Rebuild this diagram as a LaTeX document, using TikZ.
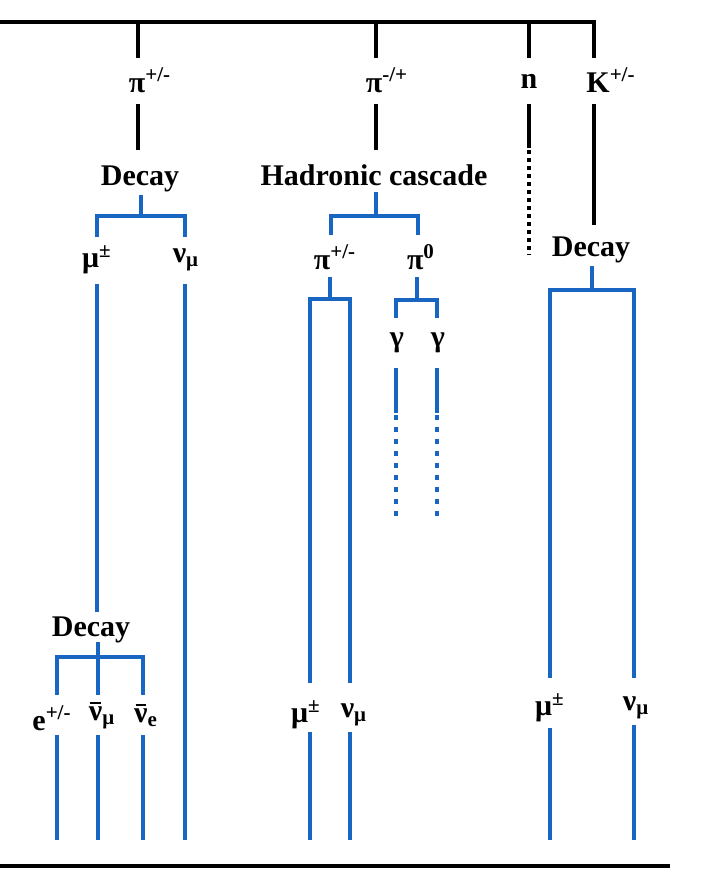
\documentclass[tikz,border=0pt]{standalone}
\usepackage{fontspec}
\setmainfont{Liberation Serif}
\usetikzlibrary{positioning,calc}
\definecolor{showerblue}{RGB}{24,102,194}
\newcommand{\nubar}{\ooalign{ν\cr\hidewidth\rule[0.56em]{0.34em}{0.07em}\hidewidth\cr}}

\begin{document}
\begin{tikzpicture}[x=0.5pt,y=-0.5pt,
  lbl/.style={font=\fontsize{15}{18}\selectfont\bfseries,inner sep=0pt},
  blk/.style={line width=2.3pt,black},
  shw/.style={line width=2pt,showerblue},
  ndots/.style={blk,dash pattern=on 2pt off 2pt},
  gdots/.style={shw,dash pattern=on 2.5pt off 3.5pt}
]
  \useasboundingbox (0,0) rectangle (718,891);

  % Primary bar
  \coordinate (barL) at (0,22);
  \coordinate (tA) at (138,58);
  \coordinate (tB) at (376,58);
  \coordinate (tN) at (529,58);
  \coordinate (tK) at (594,58);
  \draw[blk] (barL) -- (tK |- barL) -- (tK);
  \draw[blk] (tA |- barL) -- (tA);
  \draw[blk] (tB |- barL) -- (tB);
  \draw[blk] (tN |- barL) -- (tN);

  \node[lbl] (piA) at (150,80) {π\textsuperscript{+/-}};
  \node[lbl] (piB) at (387,80) {π\textsuperscript{-/+}};
  \node[lbl] (neut) at (529,81) {n};
  \node[lbl] (kaon) at (611,80) {K\textsuperscript{+/-}};

  % Second stage
  \node[lbl] (decA) at (140,179) {Decay};
  \node[lbl] (hadc) at (374,175) {Hadronic cascade};
  \node[lbl] (decK) at (591,250) {Decay};

  \coordinate (sA) at (138,104);
  \coordinate (sB) at (376,104);
  \coordinate (sN) at (529,104);
  \coordinate (sK) at (594,104);
  \draw[blk] (sA) -- (sA |- 0,150);
  \draw[blk] (sB) -- (sB |- 0,150);
  \draw[blk] (sN) -- (sN |- 0,148);
  \draw[ndots] (sN |- 0,150) -- (sN |- 0,255);
  \draw[blk] (sK) -- (sK |- 0,225);

  % pi+/- decay
  \coordinate (jA) at (141,216);
  \coordinate (muTop) at (97,216);
  \coordinate (nuTop) at (185,216);
  \draw[shw] (jA |- 0,195) -- (jA);
  \draw[shw] (muTop |- 0,237) -- (muTop) -- (nuTop) -- (nuTop |- 0,237);
  \node[lbl] (muA) at (97,260) {μ\textsuperscript{±}};
  \node[lbl] (nuA) at (186,260) {ν\textsubscript{μ}};
  \draw[shw] (muTop |- 0,284) -- (muTop |- 0,612);
  \draw[shw] (nuTop |- 0,284) -- (nuTop |- 0,840);

  % muon decay
  \node[lbl] (decB) at (91,630) {Decay};
  \coordinate (jB) at (98,657);
  \coordinate (eTop) at (57,657);
  \coordinate (veTop) at (143,657);
  \draw[shw] (jB |- 0,642) -- (jB |- 0,695);
  \draw[shw] (eTop |- 0,695) -- (eTop) -- (veTop) -- (veTop |- 0,695);
  \node[lbl] (el) at (52,718) {e\textsuperscript{+/-}};
  \node[lbl] (nbm) at (102,718) {\nubar\textsubscript{μ}};
  \node[lbl] (nbe) at (146,718) {\nubar\textsubscript{e}};
  \draw[shw] (eTop |- 0,735) -- (eTop |- 0,840);
  \draw[shw] (jB |- 0,735) -- (jB |- 0,840);
  \draw[shw] (veTop |- 0,735) -- (veTop |- 0,840);

  % Hadronic cascade
  \coordinate (jH) at (376,216);
  \coordinate (pcTop) at (331,216);
  \coordinate (p0Top) at (418,216);
  \draw[shw] (jH |- 0,192) -- (jH);
  \draw[shw] (pcTop |- 0,235) -- (pcTop) -- (p0Top) -- (p0Top |- 0,235);
  \node[lbl] (piC) at (335,257) {π\textsuperscript{+/-}};
  \node[lbl] (pi0) at (421,257) {π\textsuperscript{0}};

  \coordinate (jC) at (330,299);
  \coordinate (mcTop) at (310,299);
  \coordinate (ncTop) at (350,299);
  \draw[shw] (jC |- 0,277) -- (jC);
  \draw[shw] (mcTop |- 0,683) -- (mcTop) -- (ncTop) -- (ncTop |- 0,683);
  \node[lbl] (muC) at (306,715) {μ\textsuperscript{±}};
  \node[lbl] (nuC) at (354,715) {ν\textsubscript{μ}};
  \draw[shw] (mcTop |- 0,732) -- (mcTop |- 0,840);
  \draw[shw] (ncTop |- 0,732) -- (ncTop |- 0,840);

  \coordinate (j0) at (417,300);
  \coordinate (gaTop) at (396,300);
  \coordinate (gbTop) at (437,300);
  \draw[shw] (j0 |- 0,277) -- (j0);
  \draw[shw] (gaTop |- 0,318) -- (gaTop) -- (gbTop) -- (gbTop |- 0,318);
  \node[lbl] (gamA) at (397,343) {γ};
  \node[lbl] (gamB) at (438,343) {γ};
  \draw[shw] (gaTop |- 0,368) -- (gaTop |- 0,413);
  \draw[shw] (gbTop |- 0,368) -- (gbTop |- 0,413);
  \draw[gdots] (gaTop |- 0,415) -- (gaTop |- 0,522);
  \draw[gdots] (gbTop |- 0,415) -- (gbTop |- 0,522);

  % Kaon decay
  \coordinate (jK) at (592,290);
  \coordinate (mkTop) at (550,290);
  \coordinate (nkTop) at (634,290);
  \draw[shw] (jK |- 0,266) -- (jK);
  \draw[shw] (mkTop |- 0,678) -- (mkTop) -- (nkTop) -- (nkTop |- 0,678);
  \node[lbl] (muK) at (550,708) {μ\textsuperscript{±}};
  \node[lbl] (nuK) at (636,708) {ν\textsubscript{μ}};
  \draw[shw] (mkTop |- 0,728) -- (mkTop |- 0,840);
  \draw[shw] (nkTop |- 0,725) -- (nkTop |- 0,840);

  % Ground
  \coordinate (gndL) at (0,866);
  \coordinate (gndR) at (670,866);
  \draw[blk] (gndL) -- (gndR);
\end{tikzpicture}
\end{document}
